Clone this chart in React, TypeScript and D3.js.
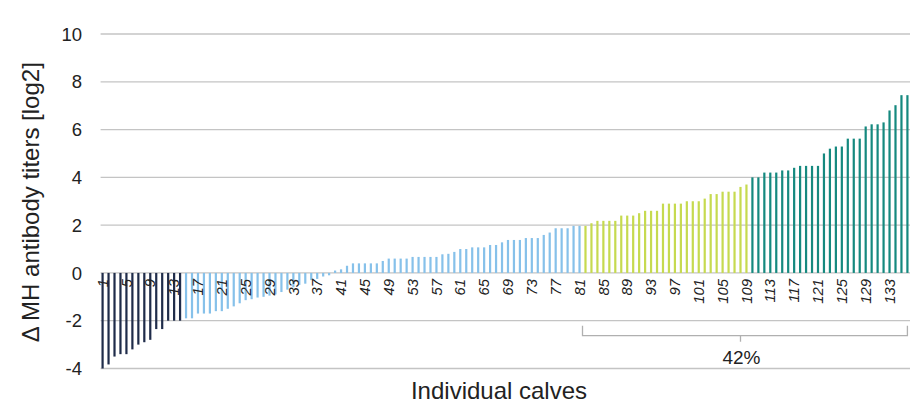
import * as d3 from "d3"

// values, grouped by colour
const navyValues = [-4.0, -3.83, -3.5, -3.4, -3.4, -3.2, -3.0, -2.9, -2.8, -2.35, -2.35, -2.0, -2.0, -2.0]
const lightBlueValues = [
    -1.9, -1.9, -1.7, -1.7, -1.7, -1.6, -1.6, -1.5, -1.4, -1.27, -1.14, -1.1, -1.03, -1.0, -0.95, -0.9,
    -0.8, -0.7, -0.6, -0.5, -0.45, -0.3, -0.25, -0.15, -0.1, 0.1, 0.15, 0.3, 0.4, 0.4, 0.4, 0.4, 0.4,
    0.5, 0.6, 0.6, 0.6, 0.6, 0.67, 0.67, 0.67, 0.67, 0.67, 0.78, 0.8, 0.88, 1.0, 1.0, 1.07, 1.07, 1.07,
    1.17, 1.17, 1.28, 1.38, 1.38, 1.38, 1.46, 1.46, 1.46, 1.59, 1.69, 1.87, 1.87, 1.87, 1.97, 1.97,
]
const yellowGreenValues = [
    1.97, 2.08, 2.18, 2.18, 2.18, 2.18, 2.4, 2.4, 2.4, 2.5, 2.6, 2.6, 2.6, 2.9, 2.9, 2.9, 2.9,
    3.0, 3.0, 3.0, 3.11, 3.3, 3.3, 3.4, 3.4, 3.4, 3.6, 3.7,
]
const tealValues = [
    4.0, 4.0, 4.2, 4.2, 4.2, 4.29, 4.29, 4.4, 4.48, 4.48, 4.48, 4.48, 5.0, 5.2, 5.29, 5.29, 5.62,
    5.62, 5.62, 6.13, 6.22, 6.22, 6.3, 6.8, 7.02, 7.44, 7.44,
]
const groupColors = ["#1f2c4a", "#86c1ea", "#c6da4f", "#15897f"]
const yTicks = [-4, -2, 0, 2, 4, 6, 8, 10]
const bracketLabel = "42%"

const bars = [navyValues, lightBlueValues, yellowGreenValues, tealValues]
    .flatMap((vals, g) => vals.map(v => ({ value: v, group: g })))
    .map((d, i) => ({ ...d, calf: i + 1 }))

const labelCalves = bars.map(d => d.calf).filter(c => (c - 1) % 4 === 0)

export default function App() {
    const width = 910
    const height = 405
    const marginLeft = 99.6
    const plotRight = 910.4
    const yTop = 34
    const yBottom = 368.5

    const x = d3.scaleBand<number>()
        .domain(bars.map(d => d.calf))
        .range([marginLeft, plotRight])
        .paddingInner(0.63)
        .paddingOuter(0.315)

    const y = d3.scaleLinear()
        .domain([-4, 10])
        .range([yBottom, yTop])

    const bw = x.bandwidth()
    const step = x.step()
    const cx = (c: number) => (x(c) ?? 0) + bw / 2

    // bracket over the last two colour groups (yellow-green + teal)
    const firstHigh = bars.find(d => d.group === 2)!.calf
    const bracketLeft = cx(firstHigh) - step / 2
    const bracketRight = cx(bars[bars.length - 1].calf)
    const bracketMid = cx(108)
    const bTop = y(-2) + 5
    const bBot = y(-2) + 15

    const font = "'Liberation Sans', Arial, sans-serif"

    return (
        <svg width={width} height={height} style={{ position: "absolute", left: 0, top: 0 }}
            fontFamily={font}>
            {/* gridlines */}
            <g stroke="#c4c4c4" strokeWidth={1.3}>
                {yTicks.map(t => (
                    <line key={t} x1={marginLeft + 1} x2={plotRight} y1={y(t)} y2={y(t)} />
                ))}
            </g>
            {/* y tick labels */}
            <g fill="#222" fontSize={18.5} textAnchor="end">
                {yTicks.map(t => (
                    <text key={t} x={82} y={y(t)} dy="0.36em">{t}</text>
                ))}
            </g>
            {/* bars */}
            <g>
                {bars.map(d => (
                    <rect key={d.calf}
                        x={x(d.calf)}
                        y={Math.min(y(d.value), y(0))}
                        width={bw}
                        height={Math.abs(y(d.value) - y(0))}
                        fill={groupColors[d.group]} />
                ))}
            </g>
            {/* category labels */}
            <g fill="#222" fontSize={14.8} fontStyle="italic" textAnchor="end">
                {labelCalves.map(c => (
                    <text key={c} transform={`translate(${cx(c)},${y(0) + 6})rotate(-90)`} dy="0.35em">{c}</text>
                ))}
            </g>
            {/* bracket */}
            <g stroke="#b0b0b0" strokeWidth={1.3} fill="none">
                <path d={`M${bracketLeft},${bTop}V${bBot}H${bracketRight}V${bTop}`} />
                <line x1={bracketMid} x2={bracketMid} y1={bBot} y2={bBot + 6} />
            </g>
            <text x={bracketMid + 1} y={364} textAnchor="middle" fontSize={19} fill="#222">{bracketLabel}</text>
            {/* axis titles */}
            <text x={499} y={399} textAnchor="middle" fontSize={24} fill="#222">Individual calves</text>
            <text transform={`translate(39,${(yTop + yBottom) / 2 + 1})rotate(-90)`} textAnchor="middle"
                fontSize={24} fill="#222">Δ MH antibody titers [log2]</text>
        </svg>
    )
}
